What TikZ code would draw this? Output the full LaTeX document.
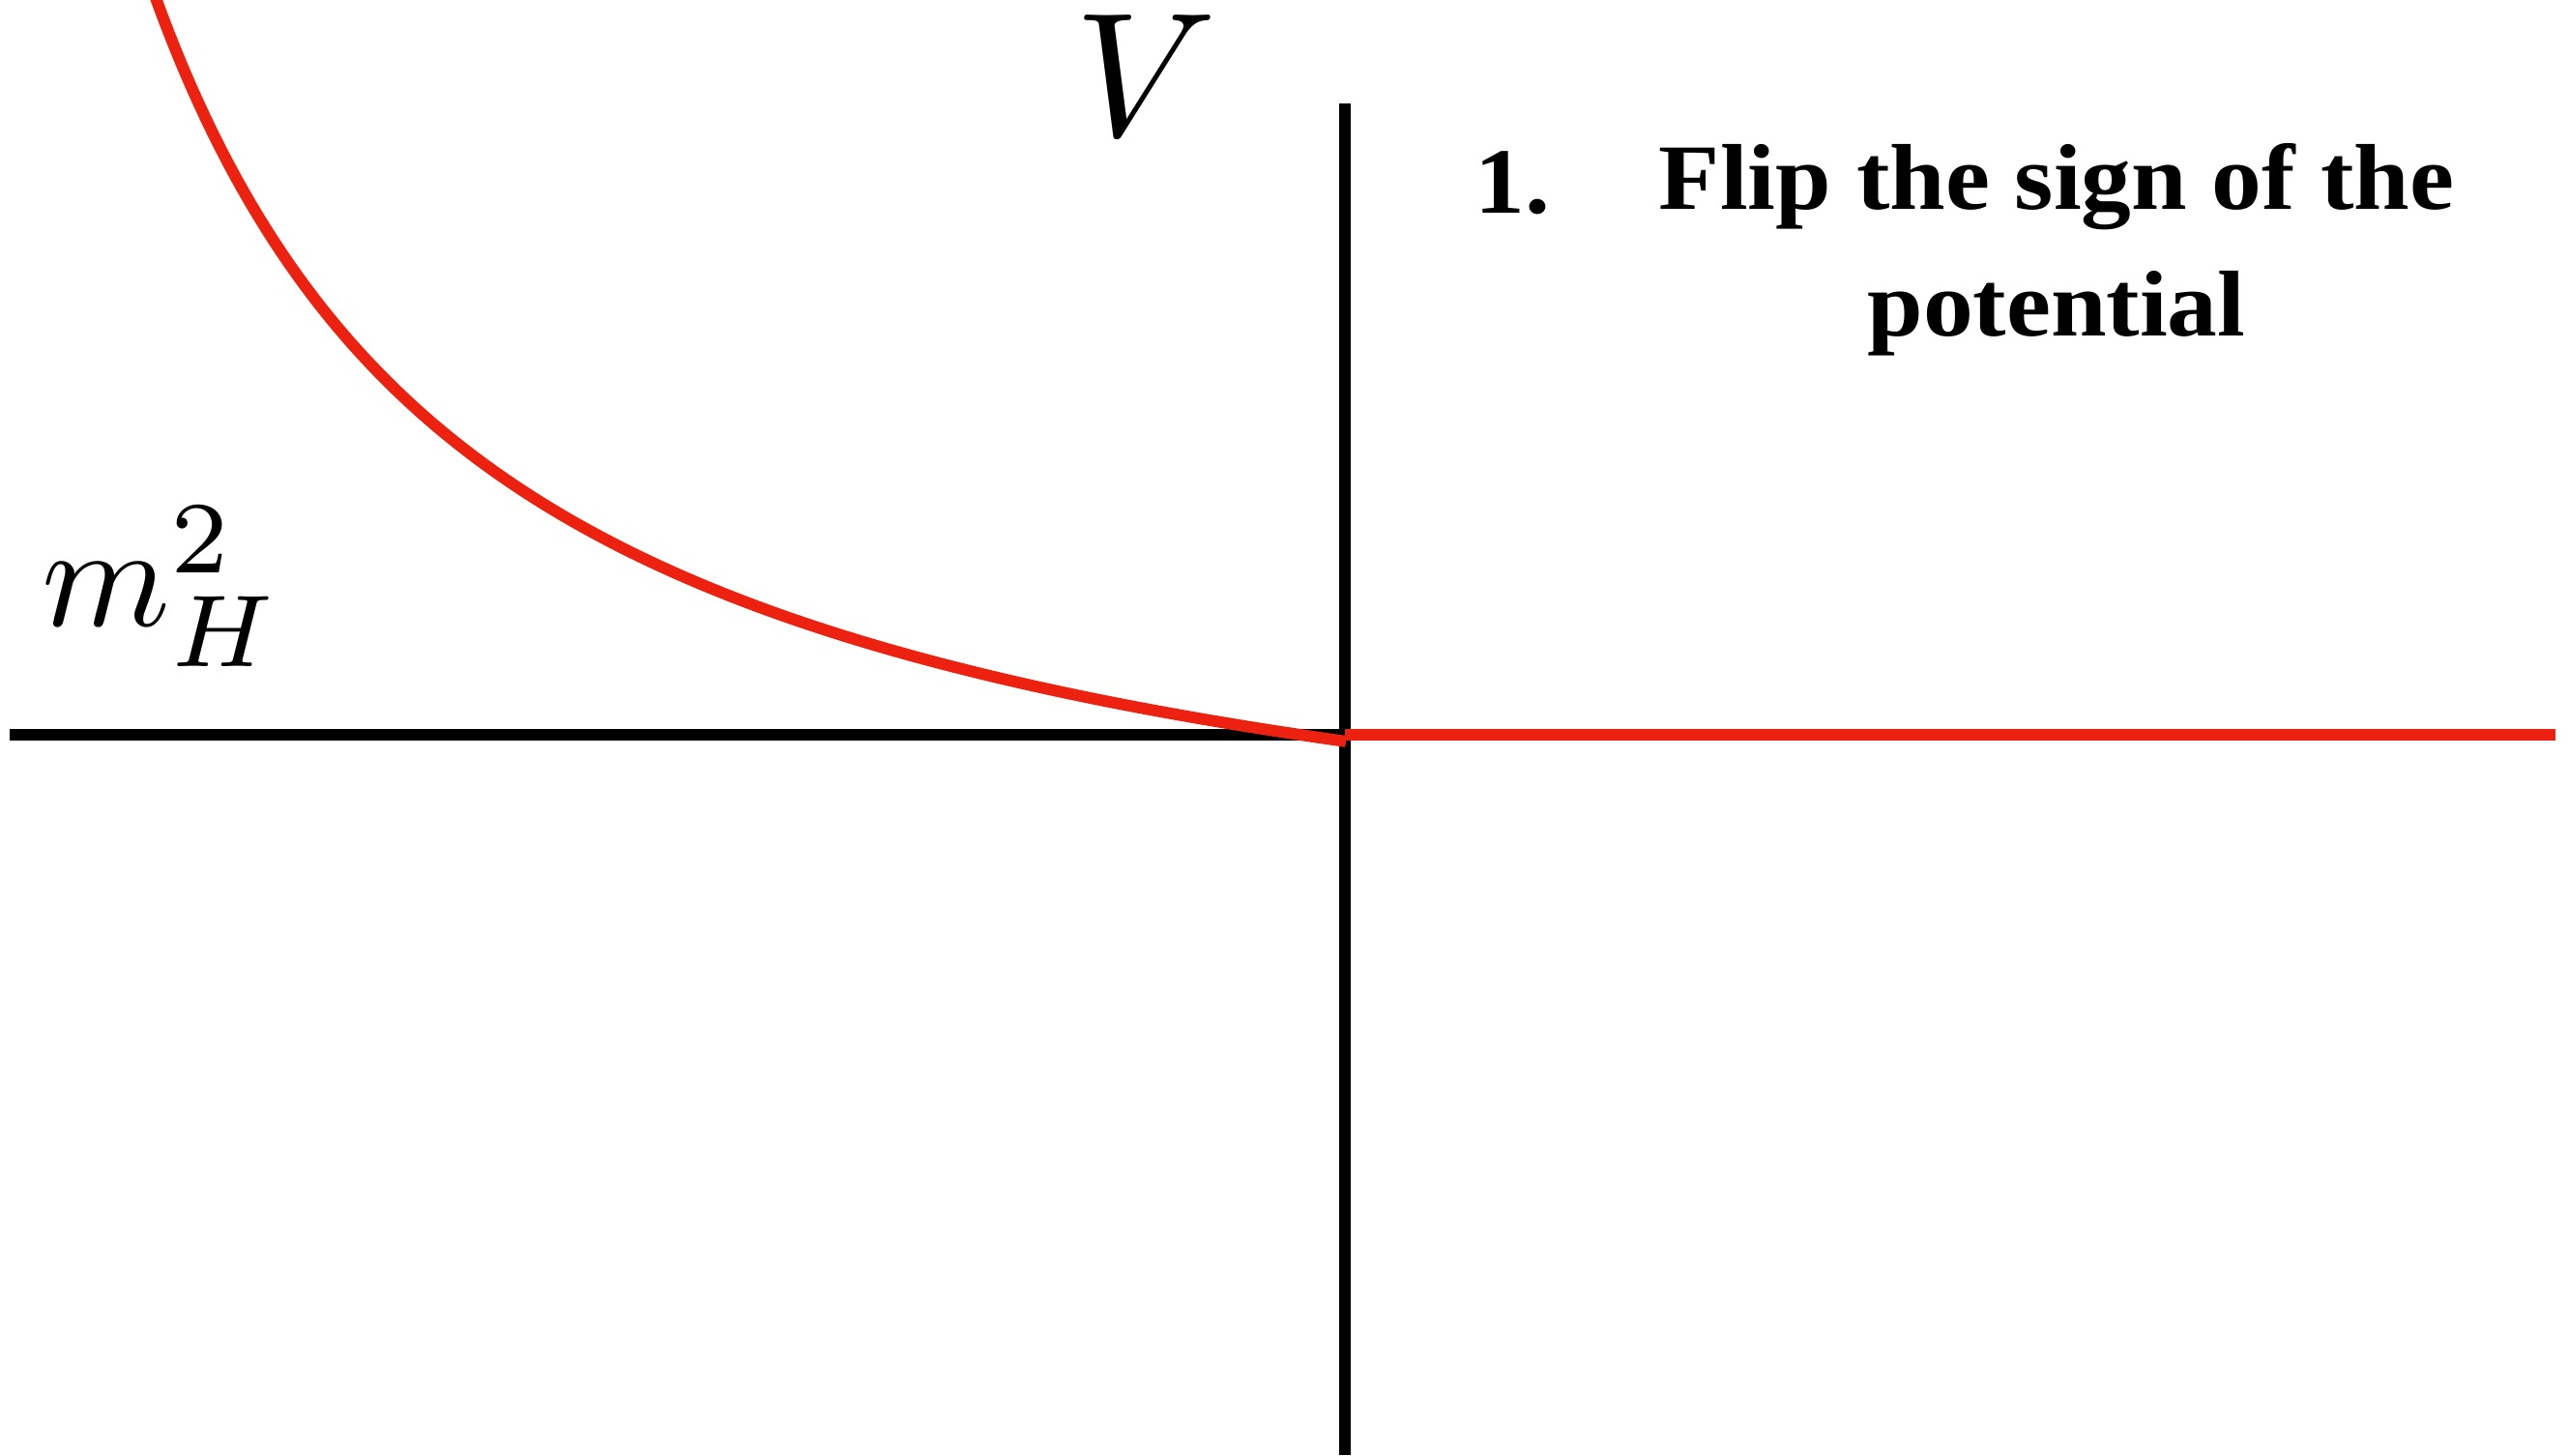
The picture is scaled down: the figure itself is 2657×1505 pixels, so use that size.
\documentclass[tikz,border=0pt]{standalone}
\usepackage{fontspec}
\newfontfamily\capfont[FakeStretch=1.07]{Liberation Serif}
\definecolor{curvered}{RGB}{237,33,15}
\begin{document}
\begin{tikzpicture}[x=0.01cm,y=-0.01cm,
  axis/.style={line width=3.4pt,black},
  redline/.style={line width=3.4pt,curvered},
  caption/.style={font=\capfont\bfseries\fontsize{27.5}{37}\selectfont,inner sep=0pt}]
\useasboundingbox (0,0) rectangle (2657,1505);
\clip (0,0) rectangle (2657,1505);
\coordinate (xl) at (10,760);
\coordinate (o) at (1391,760);
\coordinate (xr) at (2643,760);
\coordinate (yt) at (1391,107);
\coordinate (yb) at (1391,1505);
\draw[axis] (xl) -- (o);
\draw[axis] (yt) -- (yb);
\draw[redline] plot[domain=150:1392,samples=160] (\x,{992.5-3590/(0.01*\x+2)});
\draw[redline] (o) -- (xr);
\node[scale=5.2,inner sep=0pt] (V) at (1185,78) {$V$};
\node[scale=4.3,inner sep=0pt] (m) at (167,607) {$m_H^2$};
\node[caption,anchor=base west] (num) at (1525,220) {1.};
\node[caption,anchor=base,align=center] (cap) at (2127,347) {Flip the sign of the\\potential};
\end{tikzpicture}
\end{document}
